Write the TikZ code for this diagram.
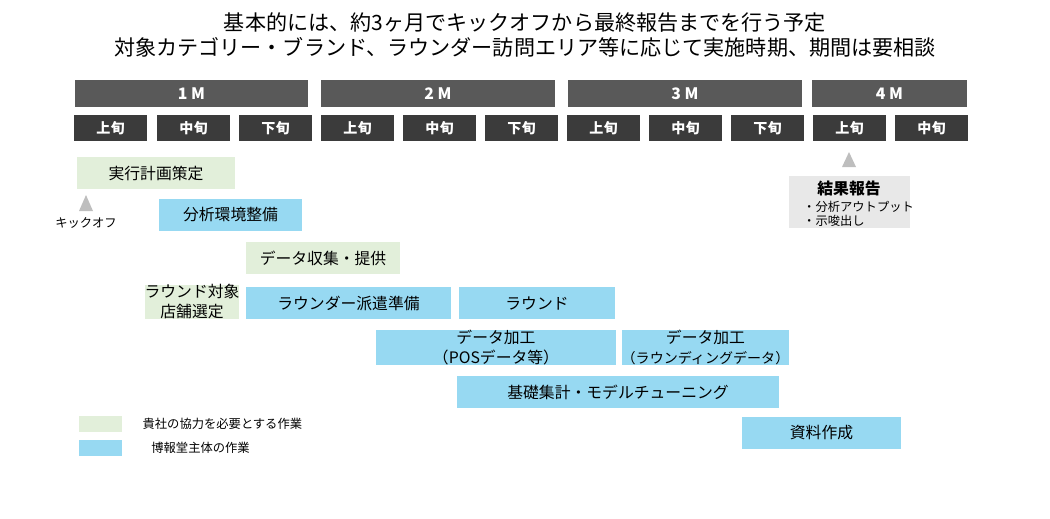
\documentclass[tikz,border=0pt]{standalone}
\usepackage{fontspec}
\setmainfont{Noto Sans CJK JP}
\usetikzlibrary{positioning, calc}
\definecolor{monthgray}{RGB}{89,89,89}
\definecolor{dekadgray}{RGB}{59,59,59}
\definecolor{ourgreen}{RGB}{226,239,218}
\definecolor{ourblue}{RGB}{151,217,242}
\definecolor{notegray}{RGB}{232,232,232}
\definecolor{markgray}{RGB}{190,190,190}
\newcommand{\gbox}[6]{\node[#1, minimum width={(#4-#2)*0.02cm}, minimum height={(#5-#3)*0.02cm}] (#6) at ({(#2+#4)/2},{(#3+#5)/2})}

\begin{document}
\begin{tikzpicture}[
    x=0.02cm, y=-0.02cm,
    month/.style={rectangle, fill=monthgray, text=white, font=\small\bfseries, inner sep=0pt},
    dekad/.style={rectangle, fill=dekadgray, text=white, font=\footnotesize\bfseries, inner sep=0pt},
    task/.style={rectangle, align=center, font=\small, inner sep=0pt},
    client/.style={task, fill=ourgreen},
    agency/.style={task, fill=ourblue},
    milestone/.style={fill=markgray, draw=none}
]
\useasboundingbox (0,0) rectangle (1050,518);

% Title
\node[font=\large, align=center] (title) at (525,35) {基本的には、約3ヶ月でキックオフから最終報告までを行う予定\\対象カテゴリー・ブランド、ラウンダー訪問エリア等に応じて実施時期、期間は要相談};

% Months
\gbox{month}{75}{80}{308}{107}{m1} {1 M};
\gbox{month}{321}{80}{555}{107}{m2} {2 M};
\gbox{month}{568}{80}{802}{107}{m3} {3 M};
\gbox{month}{812}{80}{967}{107}{m4} {4 M};

% Dekads
\foreach \x/\t [count=\i] in {74/上旬,157/中旬,239/下旬,321/上旬,403/中旬,485/下旬,567/上旬,649/中旬,731/下旬,813/上旬,895/中旬}
  \node[dekad, minimum width=1.46cm, minimum height=0.52cm] (d\i) at (\x+36.5,128) {\t};

% Tasks
\gbox{client}{77}{157}{235}{189}{plan} {実行計画策定};
\gbox{agency}{159}{199}{302}{231}{env} {分析環境整備};
\gbox{client}{246}{242}{400}{274}{data} {データ収集・提供};
\gbox{client}{156}{285}{228}{318}{store} {ラウンド対象\\店舗選定};
\gbox{agency}{246}{287}{451}{319}{prep} {ラウンダー派遣準備};
\gbox{agency}{459}{287}{615}{319}{round} {ラウンド};
\gbox{agency}{376}{331}{616}{364}{pos} {データ加工\\（POSデータ等）};
\gbox{agency}{632}{331}{779}{364}{rnd} {データ加工\\{\footnotesize（ラウンディングデータ）}};
\gbox{agency}{457}{376}{779}{408}{model} {基礎集計・モデルチューニング};
\gbox{agency}{742}{417}{901}{449}{doc} {資料作成};

% Milestones
\fill[milestone] (79,211) -- (93,211) -- (86,195) -- cycle;
\node[font=\scriptsize] (kick) at (86,223) {キックオフ};
\fill[milestone] (842,167) -- (856,167) -- (849,152) -- cycle;
\gbox{task, fill=notegray}{789}{176}{910}{228}{report} {};
\node[font=\small\bfseries] (rtitle) at (849,188) {結果報告};
\node[font=\scriptsize, align=left, anchor=north west] (rbody) at (797,195) {・分析アウトプット\\・示唆出し};

% Legend
\gbox{client}{79}{416}{122}{432}{lg1} {};
\gbox{agency}{79}{440}{122}{456}{lg2} {};
\node[font=\scriptsize, right=8pt of lg1] (lt1) {貴社の協力を必要とする作業};
\node[font=\scriptsize, right=13pt of lg2] (lt2) {博報堂主体の作業};
\end{tikzpicture}
\end{document}
